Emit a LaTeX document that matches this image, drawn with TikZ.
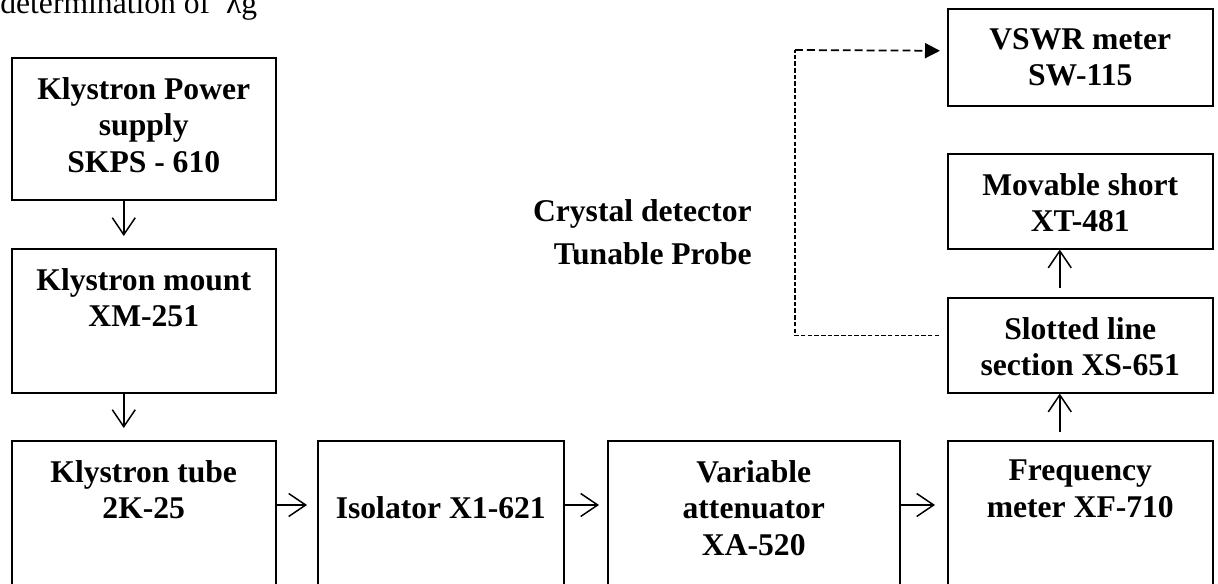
\documentclass[tikz,border=0pt]{standalone}
\usepackage{fontspec}
\setmainfont{Liberation Serif}
\usetikzlibrary{arrows.meta}

\begin{document}
\begin{tikzpicture}[x=0.02cm,y=-0.02cm,
    blk/.style={draw, line width=0.9pt, anchor=north west, inner sep=0pt},
    lbl/.style={draw=none, anchor=north, yshift=-11pt, inner sep=0pt, align=center,
      font=\fontsize{18}{21}\selectfont\bfseries},
    flow/.style={line width=0.85pt, -{Straight Barb[length=0.34cm,width=0.46cm]}},
    sense/.style={line width=0.8pt, dash pattern=on 2.5pt off 1.3pt},
    sensehead/.style={line width=1pt, dash pattern=on 4.5pt off 2.3pt,
      -{Triangle[length=0.3cm,width=0.3cm]}}]

  \useasboundingbox (0,0) rectangle (1218,583);
  \clip (0,0) rectangle (1218,583);

  \node[anchor=base west, inner sep=0pt, font=\fontsize{18}{21}\selectfont] (title) at (0,13)
    {determination of \ λg};

  % blocks
  \begin{scope}[every node/.style={blk}]
    \node[minimum width=5.28cm, minimum height=2.84cm,
      label={[lbl]north:{Klystron Power\\supply\\SKPS - 610}}] (kps) at (11,57) {};
    \node[minimum width=5.28cm, minimum height=2.88cm,
      label={[lbl]north:{Klystron mount\\XM-251}}] (mount) at (11,248) {};
    \node[minimum width=5.28cm, minimum height=3.4cm,
      label={[lbl]north:{Klystron tube\\2K-25}}] (tube) at (11,440) {};
    \node[minimum width=4.92cm, minimum height=3.4cm,
      label={[lbl,yshift=-21pt]north:{Isolator X1-621}}] (iso) at (317,440) {};
    \node[minimum width=5.84cm, minimum height=3.4cm,
      label={[lbl]north:{Variable\\attenuator\\XA-520}}] (att) at (607,440) {};
    \node[minimum width=5.3cm, minimum height=3.4cm,
      label={[lbl]north:{Frequency\\meter XF-710}}] (freq) at (947,440) {};
    \node[minimum width=5.3cm, minimum height=1.9cm,
      label={[lbl]north:{Slotted line\\section XS-651}}] (slot) at (947,297) {};
    \node[minimum width=5.3cm, minimum height=1.9cm,
      label={[lbl]north:{Movable short\\XT-481}}] (mov) at (947,153) {};
    \node[minimum width=5.3cm, minimum height=1.94cm,
      label={[lbl]north:{VSWR meter\\SW-115}}] (vswr) at (947,8) {};
  \end{scope}

  \node[anchor=east, inner sep=0pt, align=right, font=\fontsize{18}{24.5}\selectfont\bfseries]
    (det) at (752,232) {Crystal detector\\Tunable Probe};

  % connectors
  \begin{scope}[every edge/.style={draw, flow}]
    \path ([xshift=-0.4cm]kps.south)  edge[shorten >=0.24cm] ([xshift=-0.4cm]mount.north);
    \path ([xshift=-0.4cm]mount.south) edge[shorten >=0.24cm] ([xshift=-0.4cm]tube.north);
    \path ([yshift=-1.3cm]tube.north east) edge[shorten >=0.2cm] ([yshift=-1.3cm]iso.north west);
    \path ([yshift=-1.3cm]iso.north east)  edge[shorten >=0.16cm] ([yshift=-1.3cm]att.north west);
    \path ([yshift=-1.3cm]att.north east)  edge[shorten >=0.24cm] ([yshift=-1.3cm]freq.north west);
    \path ([xshift=-0.41cm]freq.north) edge[shorten <=0.16cm] ([xshift=-0.41cm]slot.south);
    \path ([xshift=-0.41cm]slot.north) edge[shorten <=0.18cm] ([xshift=-0.41cm]mov.south);
  \end{scope}

  \coordinate (bend) at (795,50);
  \draw[sense, shorten <=0.16cm] ([yshift=0.19cm]slot.west) -| (bend);
  \draw[sensehead, shorten >=0.14cm] (bend) -- ([yshift=0.13cm]vswr.west);

\end{tikzpicture}
\end{document}
